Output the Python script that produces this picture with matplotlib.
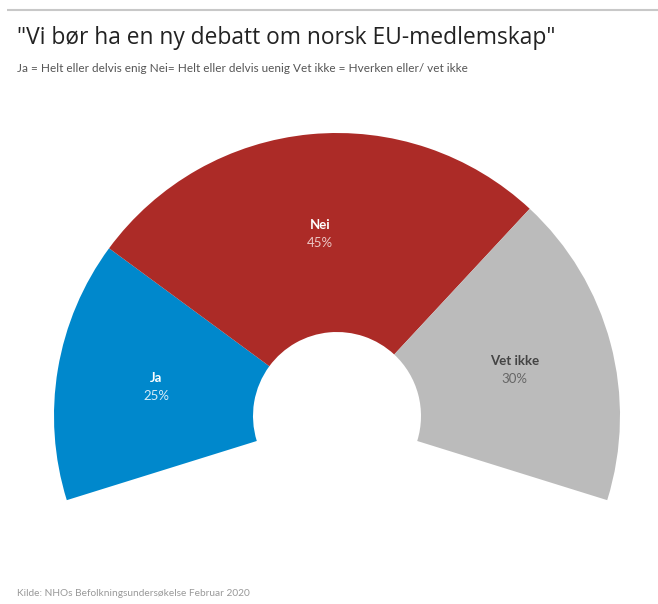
import numpy as np
import matplotlib.pyplot as plt

plt.rcParams['font.family'] = ['Lato', 'DejaVu Sans']

# data
labels = ['Ja', 'Nei', 'Vet ikke']
values = [25, 45, 30]
colors = ['#0088cc', '#ac2b27', '#bbbbbb']
name_colors = ['white', 'white', '#444444']
pct_colors = ['#d6ecf8', '#ecc8c6', '#666666']

title = '"Vi bør ha en ny debatt om norsk EU-medlemskap"'
subtitle = 'Ja = Helt eller delvis enig Nei= Helt eller delvis uenig Vet ikke = Hverken eller/ vet ikke'
source = 'Kilde: NHOs Befolkningsundersøkelse Februar 2020'

# layout in pixels (y up)
W, H = 658, 604
cx, cy = 337, H - 416
R, r_in = 283, 84
span = 214.6          # arc covers a bit more than half a circle
start = 180 + (span - 180) / 2

fig = plt.figure(figsize=(W / 100, H / 100), dpi=100)
ax = fig.add_axes([0, 0, 1, 1])

fracs = [v / sum(values) * span / 360 for v in values]
wedges, _ = ax.pie(fracs, colors=colors, normalize=False, startangle=start,
                   counterclock=False, center=(cx, cy), radius=R,
                   wedgeprops=dict(width=R - r_in, linewidth=0))

r_mid = (R + r_in) / 2
for w, lab, v, nc, pc in zip(wedges, labels, values, name_colors, pct_colors):
    ang = np.deg2rad((w.theta1 + w.theta2) / 2)
    x = cx + r_mid * np.cos(ang)
    y = cy + r_mid * np.sin(ang)
    ax.text(x, y + 8, lab, color=nc, fontsize=9.5, fontweight='bold',
            ha='center', va='center')
    ax.text(x, y - 10, f'{v}%', color=pc, fontsize=9.5,
            ha='center', va='center')

ax.set_xlim(0, W)
ax.set_ylim(0, H)
ax.set_aspect('equal')
ax.axis('off')

ax.plot([7, W], [H - 10, H - 10], color='#c8c8c8', lw=1.5, solid_capstyle='butt')
ax.text(17, H - 38, title, fontsize=16.4, color='#222222', va='center', ha='left',
        family=['Open Sans', 'DejaVu Sans'])
ax.text(17, H - 68, subtitle, fontsize=8.5, color='#555555', va='center', ha='left')
ax.text(17, H - 593, source, fontsize=7.3, color='#999999', va='center', ha='left')

fig.savefig('out.png', dpi=100)
